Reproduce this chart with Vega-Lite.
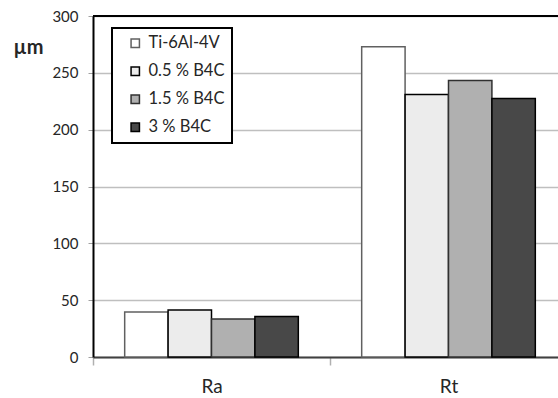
{
  "$schema": "https://vega.github.io/schema/vega-lite/v6.json",
  "autosize": {"type": "none"},
  "padding": {"left": 93, "top": 16, "right": 0, "bottom": 41},
  "width": 465,
  "height": 341,
  "background": "white",
  "config": {
    "view": {"stroke": null},
    "font": "Lato",
    "axis": {"labelFont": "Lato", "labelColor": "#262626"},
    "legend": {"labelFont": "Lato", "labelFontSize": 16.5, "labelColor": "#262626"}
  },
  "data": {
    "values": [
      {"category": "Ra", "series": "Ti-6Al-4V", "value": 39.6},
      {"category": "Ra", "series": "0.5 % B4C", "value": 41.4},
      {"category": "Ra", "series": "1.5 % B4C", "value": 33.4},
      {"category": "Ra", "series": "3 % B4C", "value": 35.7},
      {"category": "Rt", "series": "Ti-6Al-4V", "value": 272.9},
      {"category": "Rt", "series": "0.5 % B4C", "value": 230.9},
      {"category": "Rt", "series": "1.5 % B4C", "value": 243.2},
      {"category": "Rt", "series": "3 % B4C", "value": 227.4}
    ]
  },
  "layer": [
    {
      "mark": {"type": "bar", "strokeWidth": 1.5},
      "encoding": {
        "x": {
          "field": "category", "type": "nominal",
          "scale": {"type": "band", "domain": ["Ra", "Rt"], "range": [0, 474], "paddingInner": 0, "paddingOuter": 0},
          "axis": {"title": null, "labelAngle": 0, "labelFontSize": 19, "tickBand": "extent", "tickSize": 8, "tickColor": "#b0b0b0", "tickWidth": 1.5, "domainColor": "#404040", "domainWidth": 2, "labelPadding": 12, "grid": false}
        },
        "xOffset": {
          "field": "series", "type": "nominal",
          "scale": {"domain": ["Ti-6Al-4V", "0.5 % B4C", "1.5 % B4C", "3 % B4C"], "paddingInner": 0, "paddingOuter": 0.73}
        },
        "y": {
          "field": "value", "type": "quantitative",
          "scale": {"domain": [0, 300], "nice": false},
          "axis": {"title": "µm", "titleAngle": 0, "titleFont": "Lato", "titleFontSize": 20, "titleFontWeight": "bold", "titleColor": "#262626", "titleAlign": "left", "titleBaseline": "middle", "titleX": -80, "titleY": 31,
                   "values": [0, 50, 100, 150, 200, 250, 300], "labelFontSize": 15, "tickSize": 5, "tickColor": "#a0a0a0", "labelPadding": 10, "domainColor": "black", "domainWidth": 2, "grid": true, "gridColor": "#bfbfbf", "gridWidth": 1.5}
        },
        "fill": {
          "field": "series", "type": "nominal",
          "scale": {"domain": ["Ti-6Al-4V", "0.5 % B4C", "1.5 % B4C", "3 % B4C"], "range": ["#ffffff", "#ececec", "#b0b0b0", "#484848"]},
          "legend": {"title": null, "orient": "none", "legendX": 19, "legendY": 12, "strokeColor": "black", "padding": 7, "rowPadding": 11, "symbolType": "square", "symbolSize": 70, "symbolOffset": 8, "labelOffset": 5, "fillColor": "white", "labelExpr": "datum.label + '    '",
                     "encode": {"legend": {"update": {"strokeWidth": {"value": 2}}}}}
        },
        "stroke": {
          "field": "series", "type": "nominal",
          "scale": {"domain": ["Ti-6Al-4V", "0.5 % B4C", "1.5 % B4C", "3 % B4C"], "range": ["#606060", "#000000", "#303030", "#000000"]},
          "legend": {"title": null, "orient": "none", "legendX": 19, "legendY": 12, "strokeColor": "black", "padding": 7, "rowPadding": 11, "symbolType": "square", "symbolSize": 70, "symbolOffset": 8, "labelOffset": 5, "fillColor": "white", "labelExpr": "datum.label + '    '",
                     "encode": {"legend": {"update": {"strokeWidth": {"value": 2}}}}}
        }
      }
    },
    {
      "mark": {"type": "rule", "color": "black", "strokeWidth": 2},
      "encoding": {"y": {"datum": 300}}
    }
  ]
}
